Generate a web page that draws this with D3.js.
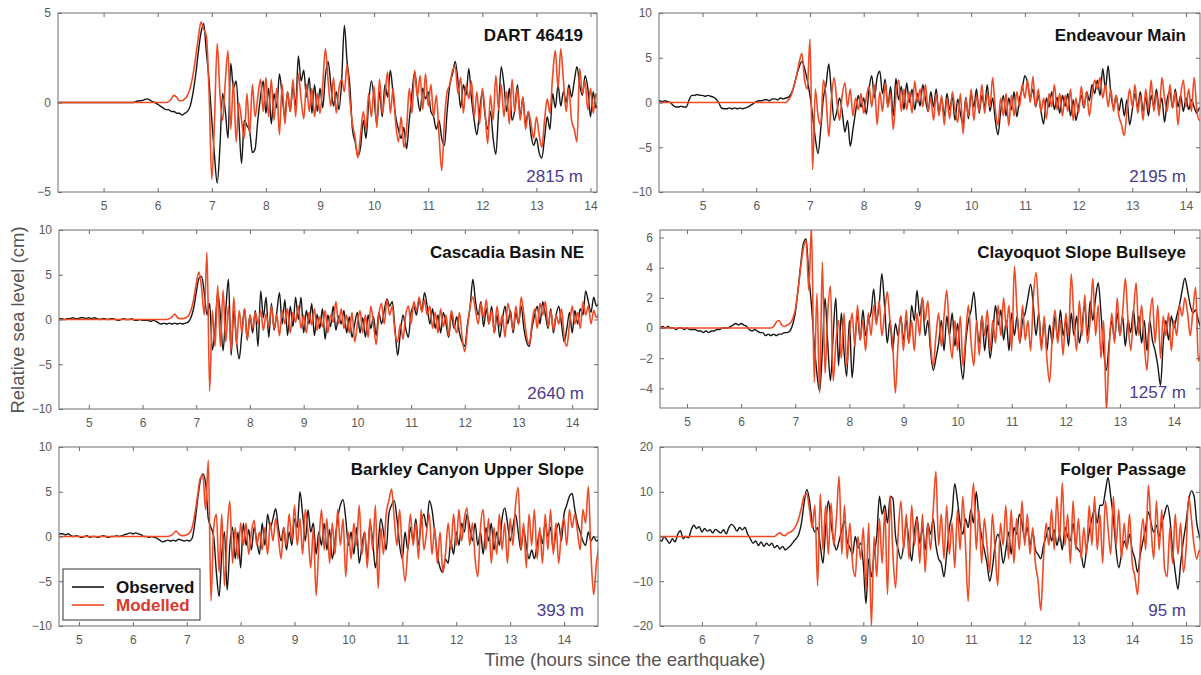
<!DOCTYPE html>
<html>
<head>
<meta charset="utf-8">
<script src="https://cdn.jsdelivr.net/npm/d3@7"></script>
<style>
  body { margin: 0; background: #fff; }
  svg text { font-family: "Liberation Sans", Arial, sans-serif; }
</style>
</head>
<body>
<svg id="chart" width="1201" height="675"></svg>
<script>
// sample step of every record, in hours since the earthquake
var dt = 0.05;

var stationNames = ["DART 46419", "Endeavour Main", "Cascadia Basin NE", "Clayoquot Slope Bullseye", "Barkley Canyon Upper Slope", "Folger Passage"];
var depthLabels = ["2815 m", "2195 m", "2640 m", "1257 m", "393 m", "95 m"];
var startTimes = [4.15, 4.15, 4.45, 4.5, 4.6, 5.2];

var xTicksA = [5, 6, 7, 8, 9, 10, 11, 12, 13, 14];
var xTicksB = [6, 7, 8, 9, 10, 11, 12, 13, 14, 15];
var yTicksDart = [-5, 0, 5];
var yTicks10 = [-10, -5, 0, 5, 10];
var yTicksClay = [-4, -2, 0, 2, 4, 6];
var yTicksFolger = [-20, -10, 0, 10, 20];

// sea level (cm), observed and modelled
var obs_dart = [0,0,0,0,0,0,0,0,0,0, 0,0,0,0,0,0,0,0,0,0, 0,0,0,0,0,0,0,0,0,
  0.05,0.1,0.1,0.15,0.2,0.15,0.05,0,-0.1,-0.2,
  -0.3,-0.4,-0.4,-0.5,-0.5,-0.6,-0.6,-0.7,-0.6,-0.5,
  -0.2,0.5,1.5,2.8,3.9,4.4,2.8,1.2,-1.0,-3.0,
  -4.5,-2.5,0.5,-0.5,-2.0,2.2,0.8,1.2,-1.0,-3.4,
  -1.0,-1.3,-1.6,-2.8,-2.6,-1.0,0.3,1.2,-0.6,0.8,
  -1.2,0.5,-0.3,1.6,0.4,-0.8,0.6,-0.5,0.9,-0.2,
  2.6,1.2,1.8,0.3,1.4,-0.6,1.0,-0.5,0.8,-0.3,
  1.5,2.3,1.0,-0.2,0.6,-0.4,1.2,4.3,2.3,1.0,
  -1.5,-2.2,-3.0,-2.5,-1.0,-2.0,0.0,1.2,0.2,-1.2,
  0.6,-0.8,1.0,0.3,1.8,0.5,-0.8,-1.5,-2.0,-1.4,
  -2.6,-1.0,0.5,1.7,0.4,-0.5,0.8,0.2,0.6,-0.5,
  -0.8,-1.5,-1.0,-2.0,-2.4,-0.5,1.0,1.6,2.3,1.2,
  -0.3,1.0,0.4,1.9,0.2,-1.0,-1.8,-0.5,0.6,-0.7,
  -1.5,-0.5,-2.0,-2.9,-0.5,2.0,1.0,-0.5,0.8,-1.0,
  -0.4,1.0,-0.8,0.3,-1.2,-0.5,-1.8,-2.4,-2.0,-2.8,
  -3.1,-2.0,-0.8,-1.5,0.5,-0.3,1.0,-0.2,0.6,0.0,
  1.0,0.3,1.2,2.0,1.0,0.4,1.5,0.8,-0.8,0.6,
  -0.3,0.2];
var mod_dart = [0,0,0,0,0,0,0,0,0,0, 0,0,0,0,0,0,0,0,0,0, 0,0,0,0,0,0,0,0,0,0, 0,0,0,0,0,0,0,0,0,0, 0,
  0.05,0.2,0.4,0.3,0.1,0.1,0.2,0.4,0.8,1.5,
  2.5,3.6,4.5,4.1,3.7,0.5,-4.3,-1.0,3.3,0.5,
  -1.0,1.2,2.9,-1.5,1.2,-2.2,0.0,-1.0,-2.0,0.5,
  -1.8,1.0,-0.8,0.3,1.3,-0.5,1.4,-0.8,1.3,-1.0,
  0.8,-1.8,1.0,-1.2,0.6,-0.5,1.3,-0.8,1.6,0.2,
  -0.9,1.0,-0.5,0.8,-0.8,0.5,-0.6,1.0,3.0,1.2,
  -0.2,1.4,-0.6,0.8,1.3,0.6,2.1,0.2,-1.2,-2.0,
  -3.1,-1.8,-0.5,-1.5,0.5,-0.8,0.9,-1.4,1.3,-0.6,
  0.4,1.7,-0.6,0.8,-1.2,-2.2,-0.8,-2.5,-1.5,0.8,
  -0.6,1.8,0.3,1.5,-0.4,1.6,-0.2,1.0,-0.8,0.4,
  -1.8,-3.8,-1.0,0.6,1.0,1.8,2.0,0.5,1.4,-0.6,
  1.0,0.2,1.2,-0.8,0.6,-1.2,0.8,-0.5,-2.3,0.4,
  -1.0,1.5,-0.4,1.0,-0.8,0.6,-1.2,1.3,-0.5,0.8,
  -1.0,0.3,-1.5,-0.5,-1.2,-2.0,-0.8,-1.8,-2.5,-1.0,
  0.2,-0.6,1.5,2.9,0.8,3.0,1.2,-0.5,0.8,-1.0,
  -1.5,-2.2,1.9,0.5,1.2,-0.4,0.8,-0.6,0.5,-0.2];

var obs_endeavour = [0.1,0.2,0.1,0.2,0.1,0.0,-0.3,-0.5,-0.5,-0.4,
  -0.5,-0.5,0.3,0.8,0.8,0.9,0.8,0.8,0.7,0.8,
  0.7,0.6,0.4,0.0,-0.6,-0.7,-0.7,-0.6,-0.7,-0.6,
  -0.7,-0.6,-0.7,-0.6,-0.5,-0.3,-0.1,0.1,0.2,0.2,
  0.3,0.3,0.2,0.4,0.4,0.3,0.5,0.4,0.5,0.6,
  1.0,1.8,3.0,4.0,4.6,3.8,2.5,0.8,-1.5,-4.0,
  -5.7,-3.0,0.5,2.0,4.3,1.0,-2.0,-1.0,0.5,-1.0,
  -3.3,-2.0,-4.9,-3.0,-1.0,0.8,-0.5,0.5,-1.3,1.5,
  3.0,0.5,2.8,3.5,1.0,2.6,-0.5,1.8,-1.5,2.7,
  0.3,1.8,-0.8,2.2,0.0,1.5,-0.8,1.0,-0.4,2.0,
  0.3,-1.0,1.2,-0.5,1.5,-1.2,0.5,-1.5,1.0,-0.8,
  0.6,-2.0,0.4,-1.2,-2.5,0.6,-1.8,1.0,-0.5,1.5,
  -1.2,0.8,-0.5,2.0,-1.0,0.5,-2.0,-3.6,-1.0,0.8,
  -1.5,0.5,-0.8,1.2,-1.6,0.4,1.5,3.0,2.2,0.5,
  1.5,-0.5,0.8,-1.0,-2.4,0.5,-0.5,1.2,-0.8,0.6,
  -1.2,0.8,-0.4,1.0,-1.5,0.3,-2.0,-0.5,0.8,-0.6,
  1.2,0.2,2.0,1.0,2.5,0.8,3.8,1.5,4.1,1.0,
  -0.5,0.8,-1.0,0.5,-1.5,0.3,-2.5,-0.8,1.0,-0.5,
  1.2,-1.0,0.6,-1.5,0.8,-0.4,1.5,-0.8,0.5,-2.2,
  0.4,1.2,-0.6,1.5,-0.5,0.8,-1.0,0.5,-0.8,0.3,
  -0.5,-1.2,-0.6,-1.0];
var mod_endeavour = [0,0,0,0,0,0,0,0,0,0, 0,0,0,0,0,0,0,0,0,0, 0,0,0,0,0,0,0,0,0,0, 0,0,0,0,0,0,0,0,0,0, 0,0,0,0,0,0,0,0,0,
  0.3,0.8,1.8,3.0,4.5,5.5,2.5,1.5,7.1,-7.5,
  1.5,-1.5,-2.5,2.5,0.5,-3.8,0.5,2.8,0.2,-2.0,
  0.8,2.2,-0.5,1.5,-1.5,0.5,-0.8,1.0,-1.2,0.6,
  1.8,-0.5,2.0,-2.5,1.2,-1.0,2.2,-0.5,1.0,-3.0,
  0.8,2.5,-1.0,1.5,-0.8,1.2,-1.2,2.4,0.0,1.5,
  -0.5,2.0,-1.0,0.5,-2.0,1.0,-1.5,0.8,-2.5,0.5,
  -1.8,1.2,-0.8,-2.2,1.0,-3.5,0.5,-1.5,1.5,-2.0,
  0.8,-1.0,2.0,-1.2,1.0,-0.5,2.8,-0.8,-2.5,0.5,
  -1.5,1.0,-2.6,0.8,-1.5,1.2,-0.5,2.0,0.5,2.5,
  0.0,2.9,-0.5,1.5,-1.0,0.5,-1.8,1.0,-0.5,2.0,
  -0.8,1.0,-1.5,0.8,-1.0,1.5,-2.0,0.5,-1.2,1.8,
  -0.5,1.2,-1.5,0.8,2.5,1.5,2.8,0.5,2.0,-0.5,
  1.5,-1.0,0.8,-1.5,-2.5,-3.7,-1.0,1.5,-0.5,2.0,
  -1.2,0.8,-2.0,1.5,-0.8,2.5,-1.0,1.0,-1.5,2.8,
  0.5,-1.0,2.0,-0.5,1.2,-2.5,0.8,2.5,-0.5,1.5,
  -1.0,2.8,-0.8,-2.0,-1.5];

var obs_cascadia = [0.1,0.1,0.0,0.1,0.1,0.2,0.1,0.1,0.2,0.2,
  0.1,0.2,0.1,0.2,0.1,0.0,0.1,0.1,0.0,0.1,
  0.1,0.0,-0.1,0.0,0.1,0.0,0.0,0.1,-0.1,-0.1,
  0.0,-0.1,-0.1,-0.1,-0.2,-0.1,-0.2,-0.4,-0.5,-0.4,
  -0.5,-0.4,-0.5,-0.4,-0.5,-0.4,-0.5,-0.4,-0.3,0.2,
  1.2,3.0,4.6,4.8,3.0,0.5,1.8,-3.4,-1.0,3.0,
  0.5,-3.5,1.0,4.5,-4.0,1.0,-2.5,-4.4,-1.5,1.2,
  -2.3,0.5,-1.5,1.0,-3.0,3.2,0.2,2.5,-2.0,1.8,
  -1.2,0.8,3.0,-0.5,2.2,-1.8,1.5,-0.8,2.5,0.0,
  2.5,-1.5,1.0,-0.5,1.8,-1.8,0.6,-1.0,1.2,-2.2,
  0.5,-0.8,1.5,-1.2,0.4,-0.5,1.0,-1.5,0.3,-2.0,
  -0.5,0.8,-1.5,0.2,-2.0,0.5,-1.0,0.3,-1.8,0.8,
  -0.5,1.0,2.3,1.5,2.0,-1.0,-4.0,-1.5,0.5,-1.0,
  -2.0,0.8,1.5,0.5,2.2,1.0,3.0,1.5,-0.5,1.2,
  -1.0,0.5,-1.5,0.8,-0.5,-2.0,0.5,-1.0,0.3,-1.5,
  -2.5,-3.0,-0.5,1.5,4.5,2.0,0.5,2.0,-0.8,1.2,
  -0.5,1.5,-1.5,0.5,-2.0,0.0,1.5,-0.5,1.0,-1.5,
  0.8,-0.5,1.5,-1.0,-2.5,-3.0,-1.0,0.5,1.5,-0.5,
  2.0,0.5,-1.0,1.2,-1.5,0.5,1.5,-0.5,-2.5,-1.0,
  0.8,-1.5,1.0,-0.5,1.2,0.5,3.2,2.0,0.8,2.5,
  1.5,2.0];
var mod_cascadia = [0,0,0,0,0,0,0,0,0,0, 0,0,0,0,0,0,0,0,0,0, 0,0,0,0,0,0,0,0,0,0, 0,0,0,0,0,0,0,0,0,0, 0,
  0.1,0.3,0.6,0.2,0.1,0.1,0.2,0.4,1.0,2.2,
  4.0,5.3,3.5,0.5,7.5,-8.0,1.0,-3.0,3.8,-3.0,
  3.3,-2.5,1.5,-3.5,2.5,-2.8,1.0,-1.5,1.2,-2.2,
  0.5,-1.0,0.8,-0.5,1.0,-1.2,0.6,-0.8,1.5,-1.0,
  0.5,-1.8,1.0,-0.5,1.2,-1.5,0.8,-0.3,1.5,-1.0,
  0.5,-1.5,0.8,-0.6,1.2,-1.2,0.3,-0.8,1.0,-1.5,
  0.5,-0.3,2.0,-0.5,1.2,-1.0,0.5,-1.5,0.8,-2.5,
  -0.5,1.0,-1.5,0.5,-2.0,1.5,-0.5,-2.8,0.5,1.8,
  -0.5,2.2,0.5,1.5,-1.5,-2.5,-0.5,-2.2,0.5,1.5,
  -0.5,2.0,1.0,2.5,0.8,2.2,0.5,1.5,-1.0,0.8,
  -1.5,1.2,-0.8,0.5,-1.8,1.0,-0.5,-1.5,0.8,-2.0,
  -3.6,-1.0,1.5,2.5,1.0,-0.5,1.8,0.2,2.2,-0.5,
  1.0,-1.5,1.5,-0.8,0.5,-2.0,1.8,0.5,-1.2,1.5,
  -0.5,2.5,0.5,-1.8,-2.8,-0.5,1.2,-1.0,1.8,0.5,
  2.0,-0.8,1.0,-1.2,0.5,-0.5,1.2,-2.0,-3.0,-0.5,
  1.5,-0.5,0.8,-1.0,2.0,0.5,1.5,-0.5,1.0,0.2,
  0.8];

var obs_clayoquot = [0.0,0.1,0.0,0.1,0.0,0.0,-0.1,0.0,0.0,-0.1,
  0.0,-0.1,-0.1,-0.1,-0.2,-0.2,-0.3,-0.2,-0.3,-0.2,
  -0.2,-0.1,-0.1,0.0,0.0,0.0,0.1,0.2,0.3,0.2,
  0.3,0.2,0.1,-0.1,-0.2,-0.1,-0.2,-0.3,-0.3,-0.5,
  -0.4,-0.5,-0.4,-0.5,-0.4,-0.4,-0.3,-0.3,-0.2,0.2,
  1.0,2.5,4.2,5.6,5.9,3.5,1.5,-1.0,-3.0,-4.2,
  -1.5,2.0,-1.0,-3.5,-0.5,2.0,-2.5,1.0,-1.5,-3.2,
  0.5,-3.3,-1.0,0.8,-0.8,1.2,-0.5,0.5,1.0,2.6,
  0.5,1.5,3.6,1.5,-1.0,0.5,-1.5,0.3,-0.5,0.8,
  -0.8,0.5,-1.0,1.5,0.5,2.5,0.8,2.0,-0.5,0.5,
  -1.5,-2.8,-2.0,-1.0,0.5,-1.5,0.8,-0.5,1.0,-1.2,
  0.3,-2.0,-3.4,-1.0,0.5,1.2,2.4,0.5,-1.0,0.8,
  -1.5,0.2,-2.0,-0.5,1.5,0.2,1.2,-0.8,0.5,-1.5,
  1.0,-0.5,0.8,-1.0,0.5,1.0,2.0,2.9,1.5,-0.5,
  1.0,-1.2,0.5,-1.5,0.2,-1.0,0.8,-0.8,1.2,-0.5,
  0.5,-1.2,1.0,-0.5,0.8,-1.0,0.2,1.5,-0.5,1.8,
  0.5,2.0,3.0,1.0,-1.5,-2.8,-1.0,0.5,-0.8,1.0,
  -0.5,0.8,-1.2,0.5,-0.3,1.2,-0.5,0.8,-1.0,0.5,
  -1.5,0.5,-0.8,-1.5,-2.5,-3.8,-1.0,0.5,-0.8,0.8,
  0.0,0.8,1.5,2.5,3.3,2.5,1.5,1.0,1.2,0.5,
  0.0];
var mod_clayoquot = [0,0,0,0,0,0,0,0,0,0, 0,0,0,0,0,0,0,0,0,0, 0,0,0,0,0,0,0,0,0,0, 0,0,0,0,0,0,0,0,0,0, 0,0,
  0.1,0.4,0.5,0.2,0.1,0.2,0.3,0.6,1.2,2.5,
  4.0,5.3,5.8,2.5,6.8,-3.6,2.3,-4.3,4.4,-3.0,
  1.0,2.8,-3.5,-1.0,0.5,-2.0,1.0,-2.5,-0.5,1.0,
  -1.2,1.5,-0.8,0.5,-1.5,1.0,-0.5,1.5,0.2,1.8,
  -0.5,1.0,2.4,0.5,-1.0,-4.3,-1.0,0.8,-1.5,1.2,
  -1.0,0.5,-1.5,1.0,-0.5,2.0,0.5,1.8,-1.0,-2.5,
  -0.5,1.0,-1.2,0.8,2.5,-0.5,-2.0,0.5,-1.5,0.8,
  -2.5,-0.5,1.5,-1.0,-2.5,0.5,-1.8,0.8,-0.5,1.2,
  -1.5,0.5,-1.0,1.5,-0.5,2.0,0.0,1.5,-1.5,4.1,
  1.0,-1.0,1.5,-0.8,0.5,-1.5,2.0,3.7,1.0,-1.5,
  0.8,-2.0,-3.6,-0.5,1.2,-1.0,0.5,-1.8,1.0,-0.5,
  3.6,0.5,-1.5,1.8,-0.5,2.2,-1.0,0.5,3.3,-0.5,
  1.5,-2.0,0.5,-5.5,-1.5,1.0,-1.0,2.0,-0.5,1.0,
  3.3,0.5,-1.5,1.0,3.0,-0.5,1.5,-1.0,-2.8,0.5,
  2.0,-1.0,1.5,-2.0,0.8,-0.5,1.0,-1.5,0.5,-0.5,
  1.5,0.8,2.0,1.0,-0.5,1.2,2.7,-2.2,-1.5];

var obs_barkley = [0.2,0.3,0.3,0.2,0.3,0.1,0.0,0.1,0.0,-0.1,
  0.0,0.1,-0.1,0.0,0.0,-0.1,0.0,0.1,0.0,-0.1,
  0.0,0.0,0.1,0.0,0.1,0.2,0.3,0.4,0.3,0.4,
  0.3,0.2,0.0,0.0,-0.1,0.0,-0.1,-0.2,-0.4,-0.6,
  -0.5,-0.4,-0.5,-0.4,-0.5,-0.3,-0.4,-0.5,-0.4,-0.5,
  -0.2,1.5,4.0,6.2,7.0,6.0,2.0,1.0,0.0,-4.0,
  -6.7,-2.0,0.5,-6.0,-1.0,1.0,-2.5,0.5,-3.5,1.5,
  -1.0,0.8,-1.5,1.0,-0.5,-2.0,1.5,-1.0,2.5,1.0,
  2.0,3.1,1.0,-0.5,1.0,-1.5,0.5,-1.0,2.0,1.0,
  5.0,2.5,-0.5,3.0,0.5,1.5,-2.0,0.5,-1.0,1.5,
  -1.5,0.8,-2.5,-0.5,2.0,3.5,4.1,2.0,-1.0,0.5,
  -2.0,1.0,-3.0,-1.0,0.5,-2.5,1.5,-0.5,-3.5,-1.0,
  2.0,0.5,-1.5,2.5,3.5,4.0,2.0,-1.0,-2.5,0.5,
  -1.5,1.0,-0.5,2.0,-1.0,1.5,2.5,1.0,4.0,3.0,
  0.5,-2.0,-3.5,-4.0,-2.5,-3.0,-0.5,-2.0,0.5,-1.0,
  1.5,0.5,2.5,1.0,-0.5,1.5,-1.0,0.5,-2.0,1.0,
  -0.5,1.5,-1.5,0.5,-1.0,2.0,3.2,1.5,-0.5,1.0,
  2.5,0.5,-1.5,0.8,-1.0,-2.5,-1.5,-2.5,-1.0,0.5,
  -0.8,1.5,0.0,1.0,-1.5,0.5,1.5,-0.5,2.5,3.5,
  4.5,4.8,3.0,1.5,0.5,-0.5,-1.0,0.5,-0.5,0.0,
  -0.5,-0.3];
var mod_barkley = [0,0,0,0,0,0,0,0,0,0, 0,0,0,0,0,0,0,0,0,0, 0,0,0,0,0,0,0,0,0,0, 0,0,0,0,0,0,0,0,0,0, 0,0,
  0.1,0.3,0.6,0.3,0.1,0.1,0.2,0.4,1.0,2.5,
  4.5,6.5,6.8,3.0,8.5,-7.2,1.0,2.5,-4.0,2.5,
  -5.5,0.5,4.0,-3.0,1.0,-2.5,1.5,-1.0,1.5,-2.0,
  0.5,1.8,-1.0,0.5,-1.5,1.0,-2.0,1.5,-0.5,2.0,
  0.0,-2.5,1.0,-1.0,2.5,-0.5,3.5,-1.0,2.0,-2.0,
  3.0,0.5,-3.5,1.0,-6.6,-1.0,3.0,-1.5,2.0,-3.0,
  1.5,-2.0,3.0,-1.0,2.0,-4.5,0.5,-2.5,1.5,-1.0,
  3.5,-2.0,0.5,-3.5,2.0,-1.5,3.5,-5.8,1.0,-2.0,
  2.5,4.0,5.3,2.0,-1.0,3.0,-2.0,-5.0,-1.5,2.5,
  -1.0,1.5,-2.5,3.0,-1.5,0.5,2.5,-2.0,1.0,-3.0,
  0.5,-4.0,-2.0,1.5,-1.5,2.5,-1.0,3.0,-0.5,2.0,
  3.2,-1.0,1.5,-2.5,-4.5,1.0,3.0,-1.5,2.0,-3.0,
  1.0,-2.0,2.5,-1.5,1.5,-3.0,2.0,-1.0,3.5,5.5,
  -1.5,1.5,-3.5,2.5,-1.0,3.0,-2.5,1.0,-3.0,2.5,
  -1.5,3.0,-2.0,1.5,-3.0,0.5,2.0,-1.0,3.0,1.0,
  2.5,0.5,-1.5,3.0,1.5,5.6,-2.0,-6.5,-3.0,-1.0];

var obs_folger = [-0.5,-1.0,0.0,-0.8,-1.5,-0.5,-1.2,0.5,1.3,-0.5,
  0.0,-0.3,1.5,2.5,1.8,2.2,1.0,1.8,1.2,1.5,
  0.8,1.6,1.2,0.8,1.5,0.6,2.0,2.7,2.2,1.2,
  2.0,1.5,2.0,0.5,-0.5,-1.5,-1.0,-2.0,-1.2,-2.2,
  -1.5,-2.0,-1.5,-2.5,-2.0,-2.8,-2.2,-3.0,-2.5,-2.0,
  -1.2,-0.5,0.5,3.0,7.5,10.5,8.0,3.0,1.0,2.0,
  -2.0,-6.0,2.0,8.0,3.0,-1.0,-3.0,-1.0,1.5,3.5,
  -1.0,-2.5,-4.0,0.0,-2.5,-1.5,-6.0,-15.0,-5.0,-9.0,
  -4.0,0.0,9.0,5.0,7.0,3.0,9.0,8.5,0.0,-3.0,
  -5.0,-2.0,3.0,-1.0,-5.5,1.0,4.5,-1.5,2.0,-3.0,
  3.0,0.5,4.0,-2.0,-5.0,-6.0,-9.0,-4.0,2.0,5.0,
  11.8,8.0,3.0,0.5,4.0,2.0,6.0,3.0,10.0,4.0,
  0.0,-3.0,-6.0,-10.0,-7.0,-2.0,0.5,-1.5,-6.0,-3.0,
  1.0,-4.0,2.0,0.5,5.0,3.0,-0.5,2.0,-2.0,1.0,
  -3.0,-4.0,-5.0,-2.0,0.0,2.0,-1.0,1.5,-2.0,0.5,
  -3.0,2.0,0.0,-1.0,3.0,-2.0,-3.0,-4.0,-7.0,-3.0,
  1.0,4.0,6.0,3.0,7.0,7.0,10.0,13.2,9.0,4.0,
  -3.0,-7.0,-4.0,-1.0,-2.5,0.5,-3.0,-5.0,-8.0,-4.0,
  -1.0,2.0,5.5,3.0,1.0,2.5,0.0,3.0,5.0,7.0,
  4.0,-3.0,-8.0,-11.8,-6.0,-1.0,3.0,8.0,10.2,9.0,
  3.0,0.0,-2.0];
var mod_folger = [0,0,0,0,0,0,0,0,0,0, 0,0,0,0,0,0,0,0,0,0, 0,0,0,0,0,0,0,0,0,0, 0,0,0,0,0,0,0,0,0,0, 0,0,0,0,
  0.5,0.8,0.3,0.2,0.8,1.0,1.5,2.5,4.0,6.5,
  9.0,9.5,6.0,2.0,7.0,-11.0,9.5,-3.0,7.0,-4.0,
  7.5,-2.0,4.0,13.5,-4.0,7.0,-5.0,3.0,-6.0,-9.0,
  0.0,-5.0,2.0,-12.0,3.0,-20.0,0.0,-9.0,4.0,-6.0,
  6.0,-13.0,9.0,-4.0,-11.5,1.0,8.0,-3.0,5.0,-5.0,
  7.0,-2.0,4.0,-6.0,5.0,-8.0,3.0,-3.0,6.0,14.5,
  -2.0,5.0,-5.0,7.0,-4.0,3.0,-7.0,6.0,-3.0,9.0,
  -2.0,-14.5,3.0,12.0,-3.0,6.0,-6.0,4.0,-2.0,-8.0,
  5.0,-3.0,-11.0,3.0,-2.0,7.0,-5.0,6.0,-6.0,4.0,
  -3.0,8.0,-2.0,5.0,-4.0,2.0,-6.0,-10.0,-16.5,-5.0,
  3.0,-2.0,6.0,-3.0,9.0,-1.0,12.0,-2.0,5.0,-6.0,
  8.0,-3.0,4.0,-5.0,2.0,-4.0,7.0,-2.0,9.0,-3.0,
  5.0,-6.0,8.0,2.0,-4.0,9.0,-2.0,6.0,-5.0,3.0,
  -3.0,5.0,-6.0,-9.0,-13.0,-2.0,4.0,-3.0,11.5,2.0,
  -5.0,8.0,-3.0,6.0,-7.0,-9.0,2.0,-6.0,5.0,-4.0,
  3.0,-8.0,-3.0,9.0,4.0,-2.0,-5.0,-3.0,-4.0];

var svg = d3.select("#chart");
var obsColor = "#161616", modColor = "#ef4a25";

var panels = [
  { obs: obs_dart, mod: mod_dart, box: [58, 13, 597, 192], xd: [4.157, 14.12], yd: [-5, 5], xt: xTicksA, yt: yTicksDart },
  { obs: obs_endeavour, mod: mod_endeavour, box: [659, 13, 1200, 192], xd: [4.19, 14.26], yd: [-10, 10], xt: xTicksA, yt: yTicks10 },
  { obs: obs_cascadia, mod: mod_cascadia, box: [59, 230, 598, 409], xd: [4.445, 14.48], yd: [-10, 10], xt: xTicksA, yt: yTicks10 },
  { obs: obs_clayoquot, mod: mod_clayoquot, box: [660, 230, 1200, 408], xd: [4.5, 14.48], yd: [-5.3, 6.5], xt: xTicksA, yt: yTicksClay },
  { obs: obs_barkley, mod: mod_barkley, box: [59, 447, 598, 626], xd: [4.63, 14.63], yd: [-10, 10], xt: xTicksA, yt: yTicks10 },
  { obs: obs_folger, mod: mod_folger, box: [660, 447, 1200, 626], xd: [5.22, 15.26], yd: [-20, 20], xt: xTicksB, yt: yTicksFolger }
];

function styleAxis(g, labels) {
  g.select(".domain").remove();
  g.selectAll(".tick line").attr("stroke", "#6a6a6a");
  g.selectAll(".tick text").attr("fill", "#5a5a5a").style("font-size", "12px");
  if (!labels) g.selectAll(".tick text").remove();
}

panels.forEach(function (p, k) {
  var L = p.box[0], T = p.box[1], R = p.box[2], B = p.box[3];
  var x = d3.scaleLinear().domain(p.xd).range([L, R]);
  var y = d3.scaleLinear().domain(p.yd).range([B, T]);
  var t0 = startTimes[k];
  var g = svg.append("g");

  g.append("clipPath").attr("id", "clip" + k)
    .append("rect").attr("x", L).attr("y", T).attr("width", R - L).attr("height", B - T);

  var line = d3.line()
    .curve(d3.curveMonotoneX)
    .x(function (d, i) { return x(t0 + i * dt); })
    .y(function (d) { return y(d); });

  g.append("path").datum(p.obs)
    .attr("clip-path", "url(#clip" + k + ")")
    .attr("d", line).attr("fill", "none")
    .attr("stroke", obsColor).attr("stroke-width", 1.4).attr("stroke-linejoin", "round");
  g.append("path").datum(p.mod)
    .attr("clip-path", "url(#clip" + k + ")")
    .attr("d", line).attr("fill", "none")
    .attr("stroke", modColor).attr("stroke-width", 1.6).attr("stroke-linejoin", "round");

  // axes, ticks pointing inwards on all four sides
  g.append("g").attr("transform", "translate(0," + B + ")")
    .call(d3.axisBottom(x).tickValues(p.xt).tickSize(-4).tickPadding(9).tickFormat(d3.format("d")))
    .call(styleAxis, true);
  g.append("g").attr("transform", "translate(0," + T + ")")
    .call(d3.axisTop(x).tickValues(p.xt).tickSize(-4))
    .call(styleAxis, false);
  g.append("g").attr("transform", "translate(" + L + ",0)")
    .call(d3.axisLeft(y).tickValues(p.yt).tickSize(-4).tickPadding(7).tickFormat(d3.format("d")))
    .call(styleAxis, true);
  g.append("g").attr("transform", "translate(" + R + ",0)")
    .call(d3.axisRight(y).tickValues(p.yt).tickSize(-4))
    .call(styleAxis, false);

  g.append("rect").attr("x", L).attr("y", T).attr("width", R - L).attr("height", B - T)
    .attr("fill", "none").attr("stroke", "#6f6f6f").attr("stroke-width", 1);

  g.append("text").attr("x", R - 14).attr("y", T + 28)
    .attr("text-anchor", "end").attr("fill", "#111")
    .style("font-size", "17px").style("font-weight", "bold")
    .text(stationNames[k]);
  g.append("text").attr("x", R - 14).attr("y", B - 10)
    .attr("text-anchor", "end").attr("fill", "#4b3b8f")
    .style("font-size", "17px")
    .text(depthLabels[k]);
});

// legend in the Barkley Canyon panel
var lg = svg.append("g");
lg.append("rect").attr("x", 63).attr("y", 569).attr("width", 137).attr("height", 51)
  .attr("fill", "#fff").attr("stroke", "#333").attr("stroke-width", 1);
[["Observed", obsColor, "#111"], ["Modelled", modColor, "#dd3a2a"]].forEach(function (d, i) {
  var yy = 587 + i * 18;
  lg.append("line").attr("x1", 72).attr("x2", 104).attr("y1", yy).attr("y2", yy)
    .attr("stroke", d[1]).attr("stroke-width", 1.6);
  lg.append("text").attr("x", 116).attr("y", yy + 6).attr("fill", d[2])
    .style("font-size", "17px").style("font-weight", "bold").text(d[0]);
});

svg.append("text").attr("transform", "translate(24,320) rotate(-90)")
  .attr("text-anchor", "middle").attr("fill", "#555").style("font-size", "18.5px")
  .text("Relative sea level (cm)");
svg.append("text").attr("x", 625).attr("y", 666)
  .attr("text-anchor", "middle").attr("fill", "#555").style("font-size", "18.5px")
  .text("Time (hours since the earthquake)");
</script>
</body>
</html>
